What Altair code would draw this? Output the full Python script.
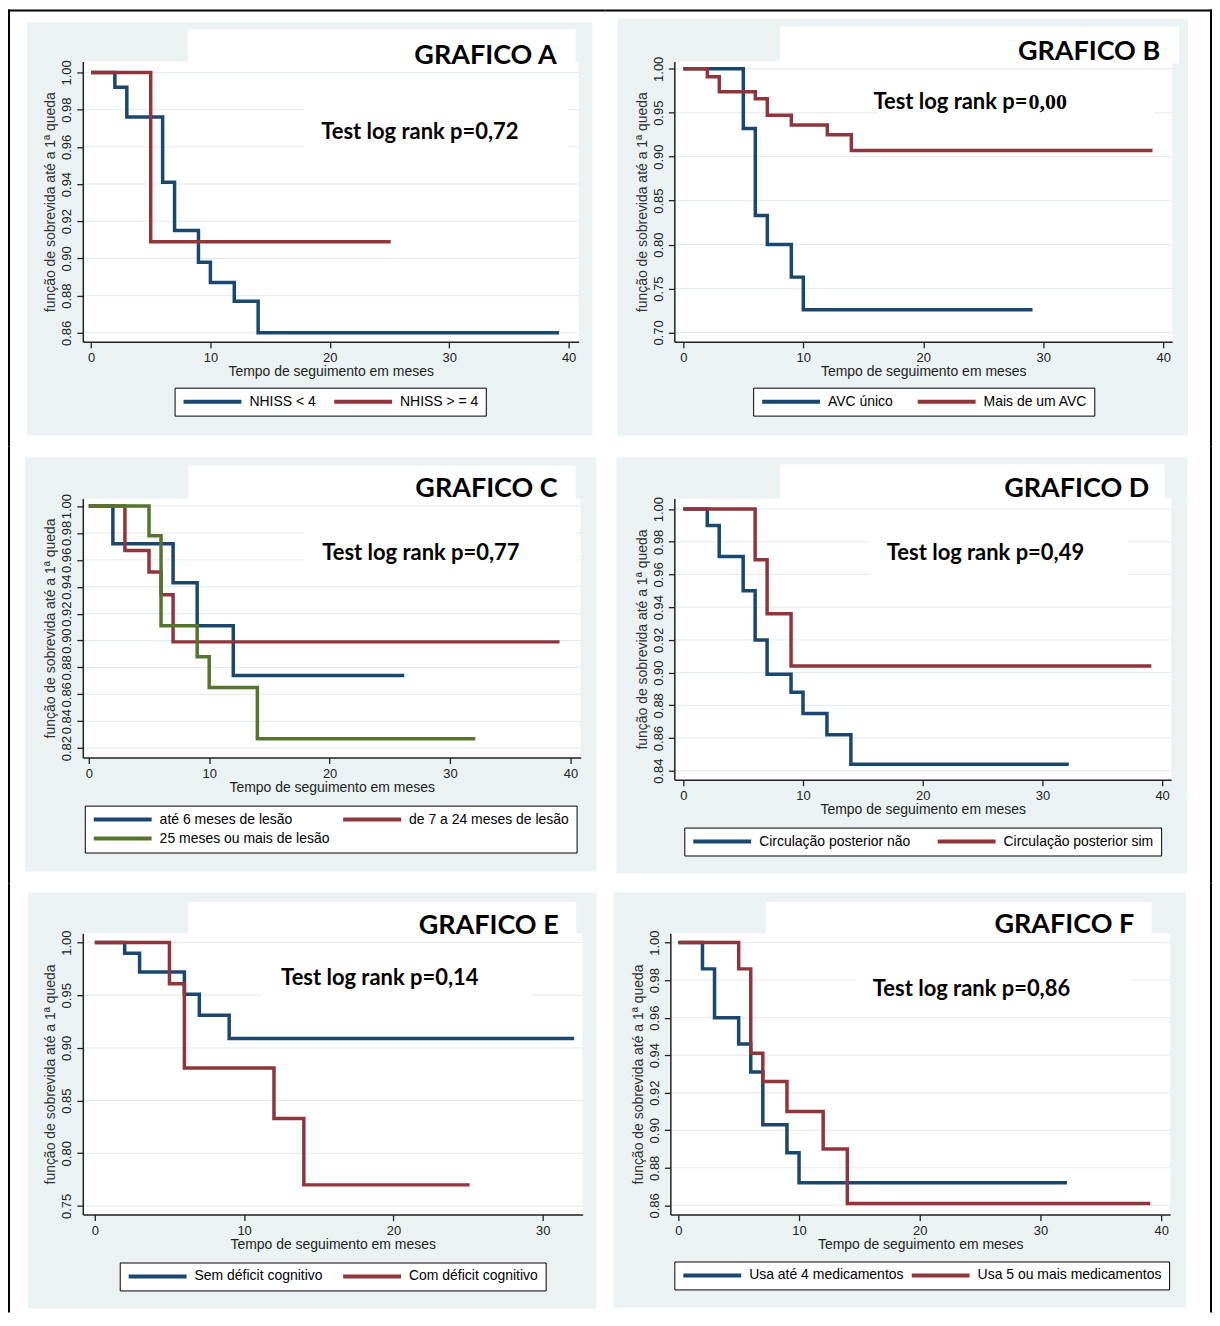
import altair as alt
import pandas as pd

NAVY = "#1a476f"
MAROON = "#90353b"
GREEN = "#55752f"
PANEL_BG = "#eaf2f3"
GRID = "#e1e9eb"
INK = "#222222"

# ---------------- data ----------------
panel_titles = ["GRAFICO A", "GRAFICO B", "GRAFICO C", "GRAFICO D", "GRAFICO E", "GRAFICO F"]
p_prefix = "Test log rank p="
p_values = ["0,72", "0,00", "0,77", "0,49", "0,14", "0,86"]
x_title = "Tempo de seguimento em meses"
y_title = "função de sobrevida até a 1ª queda"

A_labels = ["NHISS < 4", "NHISS > = 4"]
A_t1 = [0, 2, 3, 6, 7, 9, 10, 12, 14, 39.2]
A_s1 = [1.0, 0.992, 0.976, 0.941, 0.915, 0.898, 0.887, 0.877, 0.860, 0.860]
A_t2 = [0, 5, 25.1]
A_s2 = [1.0, 0.909, 0.909]
A_yticks = [0.86, 0.88, 0.90, 0.92, 0.94, 0.96, 0.98, 1.00]

B_labels = ["AVC único", "Mais de um AVC"]
B_t1 = [0, 5, 6, 7, 9, 10, 29.1]
B_s1 = [1.0, 0.932, 0.833, 0.800, 0.763, 0.726, 0.726]
B_t2 = [0, 2, 3, 6, 7, 9, 12, 14, 39.1]
B_s2 = [1.0, 0.991, 0.974, 0.966, 0.947, 0.936, 0.925, 0.907, 0.907]
B_yticks = [0.70, 0.75, 0.80, 0.85, 0.90, 0.95, 1.00]

C_labels = ["até 6 meses de lesão", "de 7 a 24 meses de lesão", "25 meses ou mais de lesão"]
C_t1 = [0, 2, 7, 9, 12, 26.2]
C_s1 = [1.0, 0.972, 0.943, 0.911, 0.874, 0.874]
C_t2 = [0, 3, 5, 6, 7, 39.1]
C_s2 = [1.0, 0.967, 0.951, 0.934, 0.899, 0.899]
C_t3 = [0, 5, 6, 9, 10, 14, 32.1]
C_s3 = [1.0, 0.978, 0.911, 0.888, 0.865, 0.827, 0.827]
C_yticks = [0.82, 0.84, 0.86, 0.88, 0.90, 0.92, 0.94, 0.96, 0.98, 1.00]

D_labels = ["Circulação posterior não", "Circulação posterior sim"]
D_t1 = [0, 2, 3, 5, 6, 7, 9, 10, 12, 14, 32.2]
D_s1 = [1.0, 0.990, 0.971, 0.950, 0.920, 0.899, 0.888, 0.875, 0.862, 0.844, 0.844]
D_t2 = [0, 6, 7, 9, 39.1]
D_s2 = [1.0, 0.969, 0.936, 0.904, 0.904]
D_yticks = [0.84, 0.86, 0.88, 0.90, 0.92, 0.94, 0.96, 0.98, 1.00]

E_labels = ["Sem déficit cognitivo", "Com déficit cognitivo"]
E_t1 = [0, 2, 3, 6, 7, 9, 32.1]
E_s1 = [1.0, 0.990, 0.972, 0.951, 0.931, 0.909, 0.909]
E_t2 = [0, 5, 6, 12, 14, 25.1]
E_s2 = [1.0, 0.961, 0.881, 0.833, 0.770, 0.770]
E_yticks = [0.75, 0.80, 0.85, 0.90, 0.95, 1.00]

F_labels = ["Usa até 4 medicamentos", "Usa 5 ou mais medicamentos"]
F_t1 = [0, 2, 3, 5, 6, 7, 9, 10, 32.2]
F_s1 = [1.0, 0.986, 0.960, 0.946, 0.931, 0.903, 0.888, 0.872, 0.872]
F_t2 = [0, 5, 6, 7, 9, 12, 14, 39.1]
F_s2 = [1.0, 0.986, 0.941, 0.926, 0.910, 0.890, 0.861, 0.861]
F_yticks = [0.86, 0.88, 0.90, 0.92, 0.94, 0.96, 0.98, 1.00]

x_ticks_40 = [0, 10, 20, 30, 40]
x_ticks_30 = [0, 10, 20, 30]

# ---------------- layout (page pixel coordinates) ----------------
# plot = (left, top, right, bottom); xcal = (page x of t=0, px per month);
# ycal = (page y of 1.00, px per unit of survival)
panels = [
    dict(series=[(A_labels[0], A_t1, A_s1, NAVY), (A_labels[1], A_t2, A_s2, MAROON)],
         yticks=A_yticks, xticks=x_ticks_40,
         plot=(83, 60, 580, 341), xcal=(91.2, 11.97), ycal=(71, 1864.3),
         bg=(27, 21, 594, 435), tbox=(188, 28, 577, 64), title_xy=(558, 63),
         pbox=(305, 100, 569, 150), p_xy=(322, 138), legend_xy=(175, 387), colpad=16,
         border=[(8, 8, 10, 446), (8, 8, 607, 10)]),
    dict(series=[(B_labels[0], B_t1, B_s1, NAVY), (B_labels[1], B_t2, B_s2, MAROON)],
         yticks=B_yticks, xticks=x_ticks_40,
         plot=(676, 60, 1175, 341), xcal=(685, 12.03), ycal=(67.3, 881.3),
         bg=(619, 17, 1191, 435), tbox=(782, 25, 1182, 62), title_xy=(1163, 59),
         pbox=(880, 85, 1157, 118), p_xy=(889, 108), p_split=1030, legend_xy=(755, 387),
         colpad=22, border=[(607, 8, 1215, 10), (1213, 8, 1215, 446)]),
    dict(series=[(C_labels[0], C_t1, C_s1, NAVY), (C_labels[1], C_t2, C_s2, MAROON),
                 (C_labels[2], C_t3, C_s3, GREEN)],
         yticks=C_yticks, xticks=x_ticks_40,
         plot=(83, 498, 582, 757.7), xcal=(89, 12.07), ycal=(505.7, 1347.8),
         bg=(25, 457, 598, 872), tbox=(189, 465, 577, 502), title_xy=(559, 497),
         pbox=(305, 527, 577, 565), p_xy=(323, 560), legend_xy=(85, 806), colpad=11,
         border=[(8, 446, 10, 884)]),
    dict(series=[(D_labels[0], D_t1, D_s1, NAVY), (D_labels[1], D_t2, D_s2, MAROON)],
         yticks=D_yticks, xticks=x_ticks_40,
         plot=(676, 498, 1174, 780), xcal=(685, 12.0), ycal=(508.7, 1639.4),
         bg=(618, 457, 1190, 874), tbox=(782, 464, 1168, 503), title_xy=(1152, 497),
         pbox=(872, 535, 1131, 578), p_xy=(889, 560), legend_xy=(686, 828), colpad=25,
         border=[(1213, 446, 1215, 884)]),
    dict(series=[(E_labels[0], E_t1, E_s1, NAVY), (E_labels[1], E_t2, E_s2, MAROON)],
         yticks=E_yticks, xticks=x_ticks_30,
         plot=(83, 934, 584, 1216), xcal=(95, 14.97), ycal=(943.3, 1056),
         bg=(28, 893, 598, 1310), tbox=(188.7, 902.7, 577.7, 938), title_xy=(560, 935),
         pbox=(262, 967, 534, 1000), p_xy=(281.8, 986), legend_xy=(120, 1264), colpad=18,
         border=[(8, 884, 10, 1314)]),
    dict(series=[(F_labels[0], F_t1, F_s1, NAVY), (F_labels[1], F_t2, F_s2, MAROON)],
         yticks=F_yticks, xticks=x_ticks_40,
         plot=(672, 934, 1173, 1216), xcal=(680, 12.1), ycal=(943.3, 1881.4),
         bg=(615, 893, 1189, 1309), tbox=(768, 902.7, 1154.5, 938), title_xy=(1137, 934),
         pbox=(858.6, 973, 1135, 1005), p_xy=(875, 996.7), legend_xy=(676, 1263), colpad=6,
         border=[(1213, 884, 1215, 1314)]),
]

ONE = pd.DataFrame({"z": [0]})


def box(x1, y1, x2, y2, color):
    return alt.Chart(ONE).mark_rect(color=color).encode(
        x=alt.value(x1), x2=alt.value(x2), y=alt.value(y1), y2=alt.value(y2))


def label(x, y, txt, align, size, font="Lato"):
    return alt.Chart(ONE).mark_text(
        align=align, baseline="alphabetic", font=font, fontSize=size,
        fontWeight="bold", color="black").encode(
        x=alt.value(x), y=alt.value(y), text=alt.value(txt))


def build_panel(i, cfg):
    L, T, R, B = cfg["plot"]
    W, H = R - L, B - T
    rx = lambda v: v - L
    ry = lambda v: v - T
    x0, kx = cfg["xcal"]
    y100, ky = cfg["ycal"]
    xdom = [(L - x0) / kx, (R - x0) / kx]
    ydom = [1.0 - (B - y100) / ky, 1.0 + (y100 - T) / ky]

    layers = []
    for (x1, y1, x2, y2) in cfg["border"]:
        layers.append(box(rx(x1), ry(y1), rx(x2), ry(y2), "black"))
    bx1, by1, bx2, by2 = cfg["bg"]
    layers.append(box(rx(bx1), ry(by1), rx(bx2), ry(by2), PANEL_BG))
    layers.append(box(0, 0, W, H, "white"))

    yscale = alt.Scale(domain=ydom, nice=False, zero=False)
    xscale = alt.Scale(domain=xdom, nice=False, zero=False)

    yaxis = alt.Axis(values=cfg["yticks"], format=".2f", title=y_title,
                     titleFont="Liberation Sans", titleFontSize=14, titleFontWeight="normal",
                     titleColor="#333333", titlePadding=3,
                     labelFont="Liberation Sans", labelFontSize=13, labelColor=INK,
                     labelAngle=270, labelAlign="center", labelBaseline="bottom",
                     labelPadding=3, labelOverlap=False, labelFlush=False,
                     tickSize=6, tickColor=INK, tickWidth=1.3, domainColor=INK,
                     domainWidth=1.5, grid=False, zindex=1)
    xaxis = alt.Axis(values=cfg["xticks"], title=x_title, titleFont="Liberation Sans",
                     titleFontSize=14, titleFontWeight="normal", titleColor=INK,
                     titleY=34, titleBaseline="alphabetic",
                     labelFont="Liberation Sans", labelFontSize=13, labelColor=INK,
                     labelPadding=4, labelFlush=False, tickSize=6, tickColor=INK,
                     tickWidth=1.3, domainColor=INK, domainWidth=1.5, grid=False, zindex=1)

    grid = alt.Chart(pd.DataFrame({"s": cfg["yticks"]})).mark_rule(
        color=GRID, strokeWidth=1).encode(
        y=alt.Y("s:Q", scale=yscale, axis=yaxis), x=alt.value(0), x2=alt.value(W))
    layers.append(grid)

    tx1, ty1, tx2, ty2 = cfg["tbox"]
    layers.append(box(rx(tx1), ry(ty1), rx(tx2), ry(ty2), "white"))
    px1, py1, px2, py2 = cfg["pbox"]
    layers.append(box(rx(px1), ry(py1), rx(px2), ry(py2), "white"))

    layers.append(label(rx(cfg["title_xy"][0]), ry(cfg["title_xy"][1]), panel_titles[i], "right", 27))
    if "p_split" in cfg:
        layers.append(label(rx(cfg["p_split"]), ry(cfg["p_xy"][1]), p_prefix, "right", 22))
        layers.append(label(rx(cfg["p_split"]) + 1, ry(cfg["p_xy"][1]), p_values[i], "left", 22,
                            font="Liberation Serif"))
    else:
        layers.append(label(rx(cfg["p_xy"][0]), ry(cfg["p_xy"][1]), p_prefix + p_values[i], "left", 22))

    rows = []
    for (name, ts, ss, col) in cfg["series"]:
        for t, s in zip(ts, ss):
            rows.append({"t": t, "s": s, "g": name})
    df = pd.DataFrame(rows)
    names = [s[0] for s in cfg["series"]]
    cols = [s[3] for s in cfg["series"]]

    lx, ly = cfg["legend_xy"]
    legend = alt.Legend(orient="none", legendX=rx(lx), legendY=ry(ly), direction="horizontal",
                        columns=2, title=None, symbolType="stroke", symbolSize=3364,
                        symbolStrokeWidth=4, labelFont="Liberation Sans", labelFontSize=14,
                        labelColor="black", labelOffset=6, labelLimit=400,
                        columnPadding=cfg["colpad"], rowPadding=5, padding=7,
                        strokeColor="black", fillColor="white", clipHeight=14)
    lines = alt.Chart(df).mark_line(interpolate="step-after", strokeWidth=3.5).encode(
        x=alt.X("t:Q", scale=xscale, axis=xaxis),
        y=alt.Y("s:Q", scale=yscale, axis=yaxis),
        color=alt.Color("g:N", scale=alt.Scale(domain=names, range=cols), legend=legend),
    )
    layers.append(lines)
    return alt.layer(*layers).properties(width=W, height=H)


charts = [build_panel(i, cfg) for i, cfg in enumerate(panels)]

row1 = alt.hconcat(charts[0], charts[1], spacing=0).resolve_scale(
    x="independent", y="independent", color="independent")
row2 = alt.hconcat(charts[2], charts[3], spacing=20).resolve_scale(
    x="independent", y="independent", color="independent")
row3 = alt.hconcat(charts[4], charts[5], spacing=17).resolve_scale(
    x="independent", y="independent", color="independent")

chart = alt.vconcat(row1, row2, row3, spacing=0).resolve_scale(
    x="independent", y="independent", color="independent").properties(
    padding=0, background="white").configure_view(strokeWidth=0)

chart.save("out.html", embed_options={"renderer": "svg", "actions": False})
